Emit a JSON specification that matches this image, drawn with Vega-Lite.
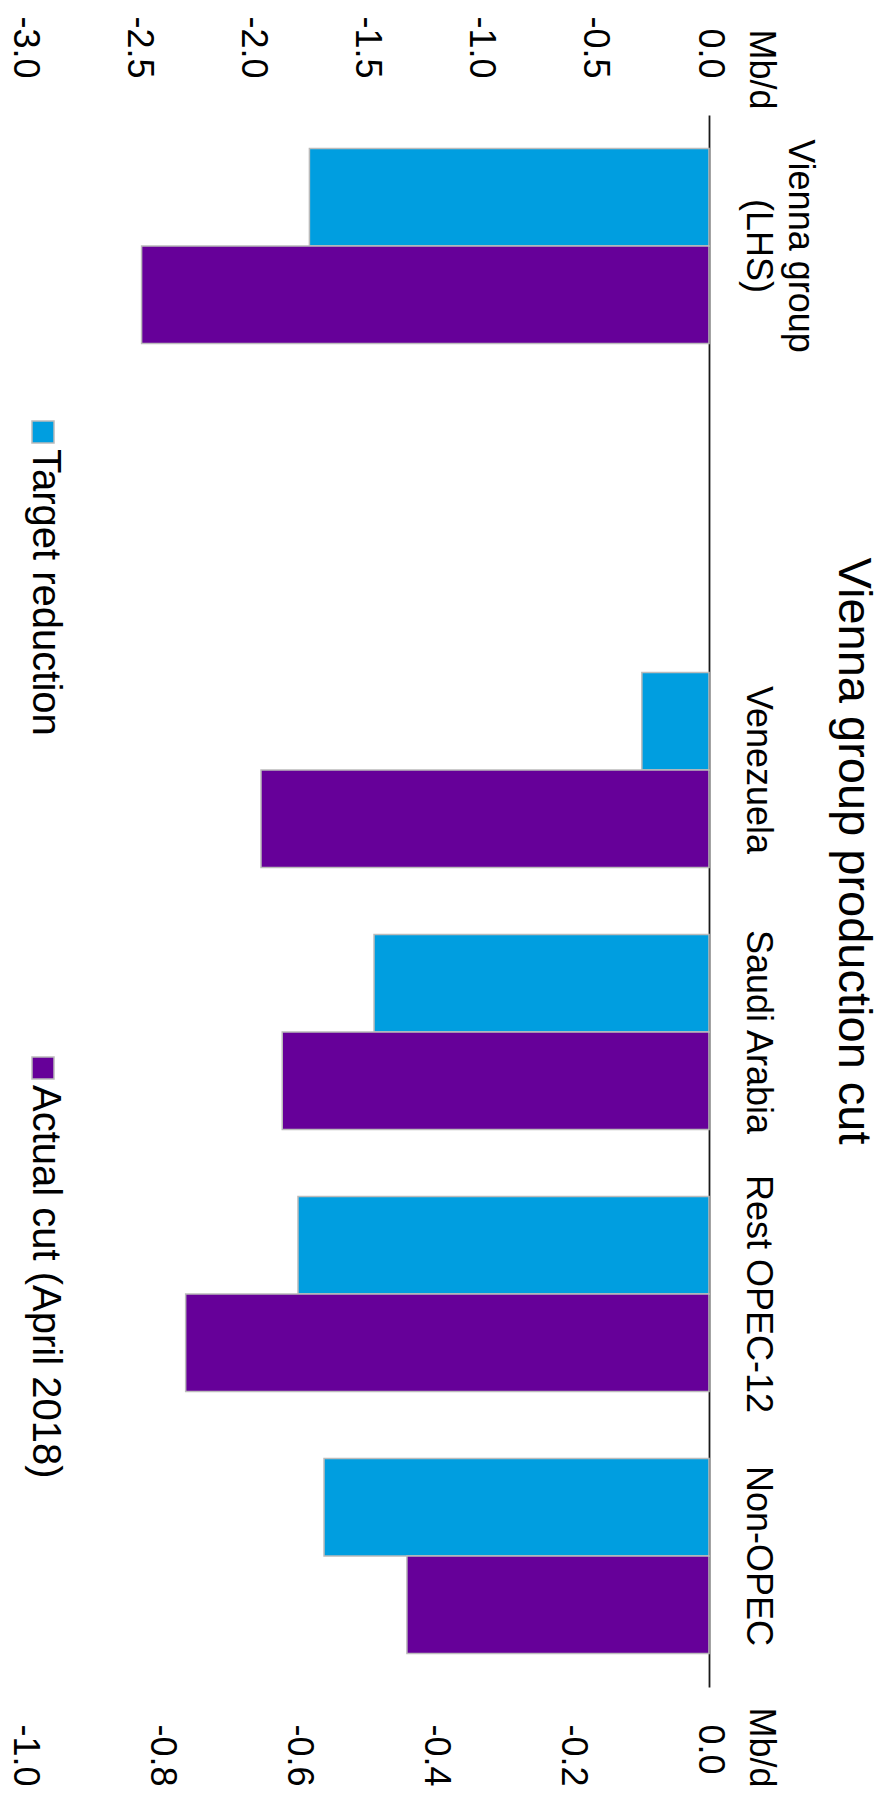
{
  "$schema": "https://vega.github.io/schema/vega-lite/v6.json",
  "autosize": {"type": "none"},
  "padding": {"left": 24, "top": 115, "right": 177, "bottom": 110},
  "width": 685,
  "height": 1572,
  "background": "white",
  "title": {
    "text": "Vienna group production cut",
    "orient": "right",
    "frame": "group",
    "anchor": "middle",
    "baseline": "alphabetic",
    "offset": 11,
    "dx": -50,
    "font": "Liberation Sans",
    "fontSize": 47,
    "fontWeight": "normal",
    "color": "#000000"
  },
  "data": {
    "values": [
      {"category": "Vienna group (LHS)", "series": "Target reduction", "value": -1.75},
      {"category": "Vienna group (LHS)", "series": "Actual cut (April 2018)", "value": -2.485},
      {"category": "Venezuela", "series": "Target reduction", "value": -0.098},
      {"category": "Venezuela", "series": "Actual cut (April 2018)", "value": -0.654},
      {"category": "Saudi Arabia", "series": "Target reduction", "value": -0.489},
      {"category": "Saudi Arabia", "series": "Actual cut (April 2018)", "value": -0.623},
      {"category": "Rest OPEC-12", "series": "Target reduction", "value": -0.6},
      {"category": "Rest OPEC-12", "series": "Actual cut (April 2018)", "value": -0.764},
      {"category": "Non-OPEC", "series": "Target reduction", "value": -0.562},
      {"category": "Non-OPEC", "series": "Actual cut (April 2018)", "value": -0.441}
    ]
  },
  "encoding": {
    "y": {
      "field": "category",
      "type": "nominal",
      "scale": {
        "domain": ["Vienna group (LHS)", "gap", "Venezuela", "Saudi Arabia", "Rest OPEC-12", "Non-OPEC"],
        "paddingInner": 0.256,
        "paddingOuter": 0.128
      },
      "axis": {
        "orient": "right",
        "title": null,
        "labelAngle": 90,
        "labelAlign": "center",
        "labelBaseline": "bottom",
        "labelPadding": 29,
        "labelLineHeight": -42,
        "labelFont": "Liberation Sans",
        "labelFontSize": 36,
        "labelColor": "#000000",
        "labelLimit": 0,
        "labelOverlap": false,
        "labelExpr": "datum.value == 'gap' ? '' : (datum.value == 'Vienna group (LHS)' ? ['(LHS)', 'Vienna group'] : datum.value)",
        "ticks": false,
        "domain": true,
        "domainColor": "#1a1a1a",
        "domainWidth": 1.8,
        "grid": false
      }
    },
    "yOffset": {
      "field": "series",
      "type": "nominal",
      "scale": {"domain": ["Target reduction", "Actual cut (April 2018)"], "paddingInner": 0, "paddingOuter": 0}
    },
    "color": {
      "field": "series",
      "type": "nominal",
      "scale": {"domain": ["Target reduction", "Actual cut (April 2018)"], "range": ["#009ee0", "#660099"]},
      "legend": {
        "orient": "none",
        "legendX": -1,
        "legendY": 297,
        "direction": "vertical",
        "title": null,
        "padding": 0,
        "symbolType": "square",
        "symbolSize": 484,
        "symbolStrokeColor": "#bbbbbb",
        "symbolStrokeWidth": 1.5,
        "symbolOpacity": 1,
        "labelFont": "Liberation Sans",
        "labelFontSize": 40,
        "labelColor": "#000000",
        "labelOffset": 0,
        "labelLimit": 0,
        "rowPadding": 312,
        "encode": {
          "labels": {
            "update": {
              "angle": {"value": 90},
              "align": {"value": "left"},
              "baseline": {"value": "middle"},
              "dx": {"value": 17},
              "dy": {"value": 18}
            }
          }
        }
      }
    }
  },
  "layer": [
    {
      "transform": [{"filter": "datum.category == 'Vienna group (LHS)'"}],
      "mark": {"type": "bar", "stroke": "#bbbbbb", "strokeWidth": 1.5},
      "encoding": {
        "x": {
          "field": "value",
          "type": "quantitative",
          "scale": {"domain": [-3, 0], "nice": false, "zero": false},
          "axis": {
            "orient": "top",
            "values": [-3, -2.5, -2, -1.5, -1, -0.5, 0],
            "labelExpr": "(datum.value < 0 ? '-' : '') + format(abs(datum.value), '.1f')",
            "labelAngle": 90,
            "labelAlign": "right",
            "labelBaseline": "middle",
            "labelPadding": 37,
            "labelFlush": false,
            "labelOverlap": false,
            "labelBound": false,
            "labelFont": "Liberation Sans",
            "labelFontSize": 36,
            "labelColor": "#000000",
            "ticks": false,
            "domain": false,
            "grid": false,
            "title": "Mb/d",
            "titleAngle": 90,
            "titleAlign": "left",
            "titleBaseline": "middle",
            "titleX": 736,
            "titleY": -86,
            "titleFont": "Liberation Sans",
            "titleFontSize": 36,
            "titleFontWeight": "normal",
            "titleColor": "#000000"
          }
        }
      }
    },
    {
      "transform": [{"filter": "datum.category != 'Vienna group (LHS)'"}],
      "mark": {"type": "bar", "stroke": "#bbbbbb", "strokeWidth": 1.5},
      "encoding": {
        "x": {
          "field": "value",
          "type": "quantitative",
          "scale": {"domain": [-1, 0], "nice": false, "zero": false},
          "axis": {
            "orient": "bottom",
            "values": [-1, -0.8, -0.6, -0.4, -0.2, 0],
            "labelExpr": "(datum.value < 0 ? '-' : '') + format(abs(datum.value), '.1f')",
            "labelAngle": 90,
            "labelAlign": "left",
            "labelBaseline": "middle",
            "labelPadding": 37,
            "labelFlush": false,
            "labelOverlap": false,
            "labelBound": false,
            "labelFont": "Liberation Sans",
            "labelFontSize": 36,
            "labelColor": "#000000",
            "ticks": false,
            "domain": false,
            "grid": false,
            "title": "Mb/d",
            "titleAngle": 90,
            "titleAlign": "left",
            "titleBaseline": "middle",
            "titleX": 736,
            "titleY": 20,
            "titleFont": "Liberation Sans",
            "titleFontSize": 36,
            "titleFontWeight": "normal",
            "titleColor": "#000000"
          }
        }
      }
    }
  ],
  "resolve": {"scale": {"x": "independent"}, "axis": {"x": "independent"}},
  "config": {"view": {"stroke": null}}
}
